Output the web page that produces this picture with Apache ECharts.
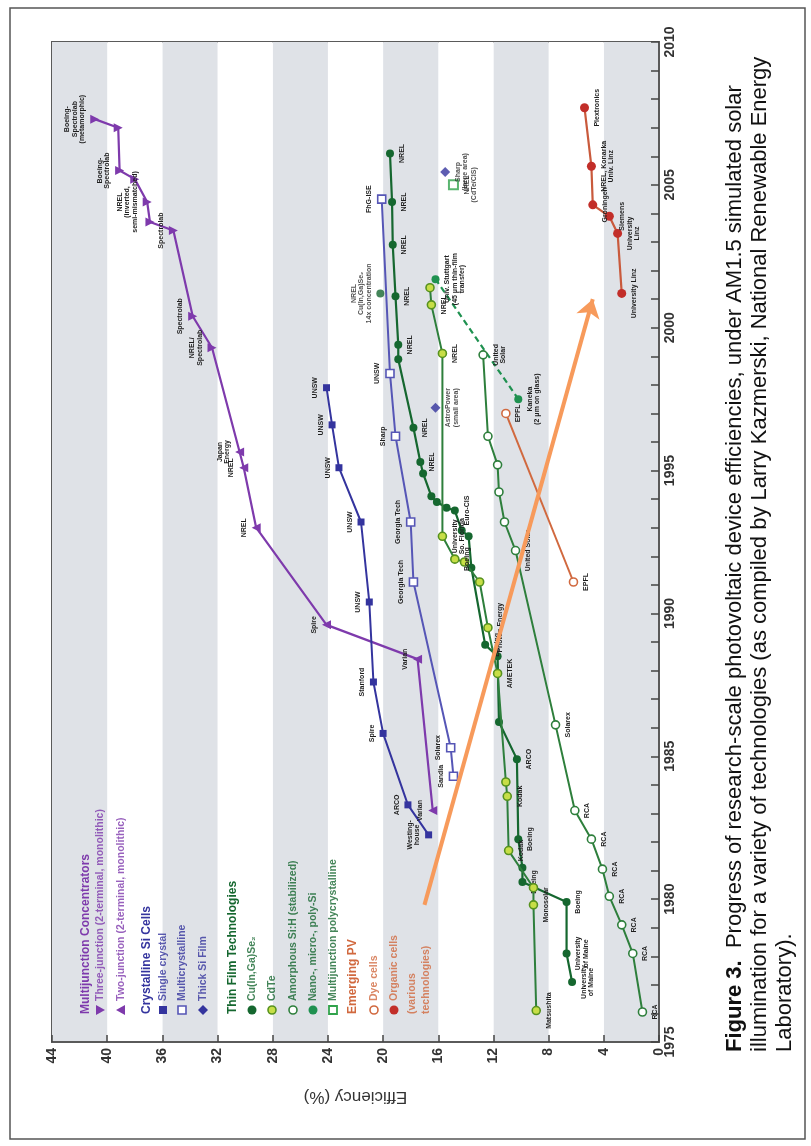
<!DOCTYPE html>
<html>
<head>
<meta charset="utf-8">
<script src="https://cdn.jsdelivr.net/npm/echarts@6/dist/echarts.min.js"></script>
<style>
html, body { margin: 0; padding: 0; background: #fff; }
#chart { width: 811px; height: 1146px; }
</style>
</head>
<body>
<div id="chart"></div>
<script>
// values: efficiency (%) and year of each record cell

// multijunction concentrators (first six two-junction, rest three-junction)
const mjYear = [1983.1, 1988.4, 1989.6, 1993.0, 1995.1, 1995.65, 1999.3, 2000.4, 2003.4, 2003.7, 2004.4, 2005.2, 2005.5, 2007.0, 2007.3];
const mjEff = [16.4, 17.5, 24.1, 29.2, 30.1, 30.4, 32.4, 33.8, 35.2, 36.9, 37.1, 38.0, 39.1, 39.2, 40.9];
const mjKind = ['2J', '2J', '2J', '2J', '2J', '2J', '3J', '3J', '3J', '3J', '3J', '3J', '3J', '3J', '3J'];
const mjNames = ['Varian', 'Varian', 'Spire', 'NREL', 'NREL', 'Japan\nEnergy', 'NREL/\nSpectrolab', 'Spectrolab', 'Spectrolab', '', 'NREL\n(inverted,\nsemi-mismatched)', '', 'Boeing-\nSpectrolab', '', 'Boeing-\nSpectrolab\n(metamorphic)'];

// crystalline Si
const scYear = [1982.25, 1983.3, 1985.8, 1987.6, 1990.4, 1993.2, 1995.1, 1996.6, 1997.9];
const scEff = [16.7, 18.2, 20.0, 20.7, 21.0, 21.6, 23.2, 23.7, 24.1];
const scNames = ['Westing-\nhouse', 'ARCO', 'Spire', 'Stanford', 'UNSW', 'UNSW', 'UNSW', 'UNSW', 'UNSW'];

const mcYear = [1984.3, 1985.3, 1991.1, 1993.2, 1996.2, 1998.4, 2004.5];
const mcEff = [14.9, 15.1, 17.8, 18.0, 19.1, 19.5, 20.1];
const mcNames = ['Sandia', 'Solarex', 'Georgia Tech', 'Georgia Tech', 'Sharp', 'UNSW', 'FhG-ISE'];

const tsYear = [1997.2, 2005.45];
const tsEff = [16.2, 15.5];
const tsNames = ['AstroPower\n(small area)', 'Sharp\n(large area)'];

// thin film
const cigsYear = [1977.1, 1978.1, 1979.9, 1980.6, 1981.1, 1982.1, 1984.9, 1986.2, 1988.5, 1988.9, 1991.6, 1992.7, 1992.9, 1993.6, 1993.7, 1993.9, 1994.1, 1994.9, 1995.3, 1996.5, 1998.9, 1999.4, 2001.1, 2002.9, 2004.4, 2006.1];
const cigsEff = [6.3, 6.7, 6.7, 9.9, 9.9, 10.2, 10.3, 11.6, 11.7, 12.6, 13.6, 13.8, 14.3, 14.8, 15.4, 16.1, 16.5, 17.1, 17.3, 17.8, 18.9, 18.9, 19.1, 19.3, 19.35, 19.5];
const cigsNames = ['University\nof Maine', 'University\nof Maine', 'Boeing', 'Boeing', '', 'Boeing', 'ARCO', '', '', 'Boeing', '', '', '', 'Euro-CIS', '', '', '', '', 'NREL', 'NREL', '', 'NREL', 'NREL', 'NREL', 'NREL', 'NREL'];

const cigsConcYear = [2001.2];
const cigsConcEff = [20.2];
const cigsConcNames = ['NREL\nCu(In,Ga)Se\u2082\n14x concentration'];

const cdYear = [1976.1, 1979.8, 1980.4, 1981.7, 1983.6, 1984.1, 1987.9, 1989.5, 1991.1, 1991.8, 1991.9, 1992.7, 1999.1, 2000.8, 2001.4];
const cdEff = [8.9, 9.1, 9.1, 10.9, 11.0, 11.1, 11.7, 12.4, 13.0, 14.1, 14.8, 15.7, 15.7, 16.5, 16.6];
const cdNames = ['Matsushita', 'Monosolar', '', 'Kodak', 'Kodak', '', 'AMETEK', 'Photon Energy', '', '', 'Boeing', 'University\nSo. Florida', 'NREL', 'NREL', ''];

const asYear = [1976.05, 1978.1, 1979.1, 1980.1, 1981.05, 1982.1, 1983.1, 1986.1, 1992.2, 1993.2, 1994.25, 1995.2, 1996.2, 1999.05];
const asEff = [1.2, 1.9, 2.7, 3.6, 4.1, 4.9, 6.1, 7.5, 10.4, 11.2, 11.6, 11.7, 12.4, 12.75];
const asNames = ['RCA', 'RCA', 'RCA', 'RCA', 'RCA', 'RCA', 'RCA', 'Solarex', 'United Solar', '', '', '', '', 'United\nSolar'];

const nsYear = [1997.5, 2001.7];
const nsEff = [10.2, 16.2];
const nsNames = ['Kaneka\n(2 \u03bcm on glass)', 'Univ. Stuttgart\n(45 \u03bcm thin-film\ntransfer)'];

const mpYear = [2005.0];
const mpEff = [14.9];
const mpNames = ['NREL\n(CdTe/CIS)'];

// emerging PV
const dyeYear = [1991.1, 1997.0];
const dyeEff = [6.2, 11.1];
const dyeNames = ['EPFL', 'EPFL'];

const orgYear = [2001.2, 2003.3, 2003.9, 2004.3, 2005.65, 2007.7];
const orgEff = [2.7, 3.0, 3.6, 4.8, 4.9, 5.4];
const orgNames = ['University Linz', 'University\nLinz', 'Siemens', 'Groningen', 'NREL, Konarka\nUniv. Linz', 'Plextronics'];

// the orange arrow laid over the plot (start, end)
const arrowYear = [1979.8, 2001.0];
const arrowEff = [17.0, 4.8];

// axis ticks
const effTicks = [0, 4, 8, 12, 16, 20, 24, 28, 32, 36, 40, 44];
const yearTicks = [1975, 1980, 1985, 1990, 1995, 2000, 2005, 2010];

const legendRows = [
    {text: 'Multijunction Concentrators', head: true, group: 'mj'},
    {text: 'Three-junction (2-terminal, monolithic)', sym: 'triR', group: 'mj'},
    {text: 'Two-junction (2-terminal, monolithic)', sym: 'triL', group: 'mj'},
    {text: 'Crystalline Si Cells', head: true, group: 'si'},
    {text: 'Single crystal', sym: 'sq', group: 'si'},
    {text: 'Multicrystalline', sym: 'sqo', group: 'si'},
    {text: 'Thick Si Film', sym: 'dia', group: 'si'},
    {text: 'Thin Film Technologies', head: true, group: 'tf'},
    {text: 'Cu(In,Ga)Se\u2082', sym: 'cigs', group: 'tf'},
    {text: 'CdTe', sym: 'cdte', group: 'tf'},
    {text: 'Amorphous Si:H (stabilized)', sym: 'asi', group: 'tf'},
    {text: 'Nano-, micro-, poly-Si', sym: 'nano', group: 'tf'},
    {text: 'Multijunction polycrystalline', sym: 'mjp', group: 'tf'},
    {text: 'Emerging PV', head: true, group: 'em'},
    {text: 'Dye cells', sym: 'dye', group: 'em'},
    {text: 'Organic cells', sym: 'org', group: 'em'},
    {text: '(various', group: 'em'},
    {text: 'technologies)', group: 'em'}
];

const captionLines = [
    'Progress of research-scale photovoltaic device efficiencies, under AM1.5 simulated solar',
    'illumination for a variety of technologies (as compiled by Larry Kazmerski, National Renewable Energy',
    'Laboratory).'
];

// ---------------------------------------------------------------
const NARROW = "'Liberation Sans Narrow', 'Liberation Sans', Arial, sans-serif";
const SANS = "'Liberation Sans', Arial, sans-serif";

const C = {
    purple: '#7e3aac',
    blue: '#34349e',
    blueLight: '#5656b6',
    dkgreen: '#15672f',
    green: '#2e7f3c',
    ygreen: '#c7de47',
    ygreenEdge: '#57921f',
    midgreen: '#1f9150',
    mjpoly: '#31a34c',
    dye: '#d1693f',
    org: '#c22e29',
    orgLine: '#c95a3c',
    arrow: '#f79a5b',
    band: '#dfe2e7'
};

function pts(eff, yr, names) {
    return eff.map((e, i) => ({value: [e, yr[i]], name: names ? names[i] : ''}));
}

function lbl(side) {
    return {
        show: true,
        rotate: 90,
        position: side,
        distance: 4,
        align: 'center',
        verticalAlign: side === 'left' ? 'bottom' : 'top',
        fontSize: 7,
        lineHeight: 7.5,
        fontWeight: 'bold',
        fontFamily: NARROW,
        color: '#1e1e1e',
        formatter: p => p.name
    };
}

const mjData = pts(mjEff, mjYear, mjNames).map((d, i) => Object.assign(d, {
    symbol: 'triangle',
    symbolRotate: mjKind[i] === '3J' ? -90 : 90
}));

const series = [
    {
        name: 'Multijunction', type: 'line', data: mjData, symbolSize: 9,
        lineStyle: {color: C.purple, width: 2.2}, itemStyle: {color: C.purple},
        label: lbl('left'), z: 5
    },
    {
        name: 'Single crystal', type: 'line', data: pts(scEff, scYear, scNames),
        symbol: 'rect', symbolSize: 7,
        lineStyle: {color: C.blue, width: 2}, itemStyle: {color: C.blue},
        label: lbl('left'), z: 5
    },
    {
        name: 'Multicrystalline', type: 'line', data: pts(mcEff, mcYear, mcNames),
        symbol: 'rect', symbolSize: 8,
        lineStyle: {color: C.blueLight, width: 2},
        itemStyle: {color: '#fff', borderColor: C.blueLight, borderWidth: 1.6},
        label: lbl('left'), z: 5
    },
    {
        name: 'Thick Si Film', type: 'scatter', data: pts(tsEff, tsYear, tsNames),
        symbol: 'diamond', symbolSize: 10, itemStyle: {color: C.blue},
        label: lbl('right'), z: 6
    },
    {
        name: 'CIGS', type: 'line', data: pts(cigsEff, cigsYear, cigsNames),
        symbol: 'circle', symbolSize: 8,
        lineStyle: {color: C.dkgreen, width: 2.2}, itemStyle: {color: C.dkgreen},
        label: lbl('right'), z: 6
    },
    {
        name: 'CIGS conc', type: 'scatter', data: pts(cigsConcEff, cigsConcYear, cigsConcNames),
        symbol: 'circle', symbolSize: 8, itemStyle: {color: C.dkgreen},
        label: lbl('left'), z: 6
    },
    {
        name: 'CdTe', type: 'line', data: pts(cdEff, cdYear, cdNames),
        symbol: 'circle', symbolSize: 8,
        lineStyle: {color: C.green, width: 2},
        itemStyle: {color: C.ygreen, borderColor: C.ygreenEdge, borderWidth: 1.6},
        label: lbl('right'), z: 7
    },
    {
        name: 'a-Si', type: 'line', data: pts(asEff, asYear, asNames),
        symbol: 'circle', symbolSize: 8,
        lineStyle: {color: C.green, width: 2},
        itemStyle: {color: '#fff', borderColor: C.green, borderWidth: 1.6},
        label: lbl('right'), z: 6
    },
    {
        name: 'Nano-Si', type: 'line', data: pts(nsEff, nsYear, nsNames),
        symbol: 'circle', symbolSize: 8,
        lineStyle: {color: C.midgreen, width: 2.2, type: [6, 4]}, itemStyle: {color: C.midgreen},
        label: lbl('right'), z: 6
    },
    {
        name: 'MJ poly', type: 'scatter', data: pts(mpEff, mpYear, mpNames),
        symbol: 'rect', symbolSize: 9,
        itemStyle: {color: '#fff', borderColor: C.mjpoly, borderWidth: 2},
        label: lbl('right'), z: 6
    },
    {
        name: 'Dye', type: 'line', data: pts(dyeEff, dyeYear, dyeNames),
        symbol: 'circle', symbolSize: 8,
        lineStyle: {color: C.dye, width: 2},
        itemStyle: {color: '#fff', borderColor: C.dye, borderWidth: 1.6},
        label: lbl('right'), z: 6
    },
    {
        name: 'Organic', type: 'line', data: pts(orgEff, orgYear, orgNames),
        symbol: 'circle', symbolSize: 9,
        lineStyle: {color: C.orgLine, width: 2.2}, itemStyle: {color: C.org},
        label: lbl('right'), z: 6
    },
    {
        name: 'arrow', type: 'lines', coordinateSystem: 'cartesian2d',
        data: [{coords: arrowEff.map((e, i) => [e, arrowYear[i]])}],
        symbol: ['none', 'arrow'], symbolSize: [0, 18],
        lineStyle: {color: C.arrow, width: 4, opacity: 1}, z: 20
    }
];

// legend, drawn rotated like the rest of the figure
const groupColor = {mj: C.purple, si: C.blue, tf: C.dkgreen, em: C.dye};
const legendX = [86, 100, 121, 147, 163, 182, 203, 233, 252, 272, 293, 313, 333, 353, 374, 394, 412, 426];
const graphics = [];
legendRows.forEach((r, i) => {
    const x = legendX[i];
    const y = 1010;
    graphics.push({
        type: 'text', x: x, y: r.sym ? y - 9 : y + 4, rotation: Math.PI / 2, silent: true, z: 50,
        style: {
            text: r.text, fill: groupColor[r.group], fontFamily: NARROW,
            fontSize: r.head ? 12 : 10.5, fontWeight: 'bold',
            align: 'left', verticalAlign: 'middle', opacity: r.head ? 1 : 0.8
        }
    });
    let shape = null;
    switch (r.sym) {
        case 'triR':
            shape = {type: 'polygon', shape: {points: [[x - 4, y - 5], [x + 5, y], [x - 4, y + 5]]}, style: {fill: C.purple}};
            break;
        case 'triL':
            shape = {type: 'polygon', shape: {points: [[x + 4, y - 5], [x - 5, y], [x + 4, y + 5]]}, style: {fill: C.purple}};
            break;
        case 'sq':
            shape = {type: 'rect', shape: {x: x - 4, y: y - 4, width: 8, height: 8}, style: {fill: C.blue}};
            break;
        case 'sqo':
            shape = {type: 'rect', shape: {x: x - 4, y: y - 4, width: 8, height: 8}, style: {fill: '#fff', stroke: C.blueLight, lineWidth: 1.6}};
            break;
        case 'dia':
            shape = {type: 'polygon', shape: {points: [[x, y - 5], [x + 5, y], [x, y + 5], [x - 5, y]]}, style: {fill: C.blue}};
            break;
        case 'cigs':
            shape = {type: 'circle', shape: {cx: x, cy: y, r: 4.5}, style: {fill: C.dkgreen}};
            break;
        case 'cdte':
            shape = {type: 'circle', shape: {cx: x, cy: y, r: 4}, style: {fill: C.ygreen, stroke: C.ygreenEdge, lineWidth: 1.6}};
            break;
        case 'asi':
            shape = {type: 'circle', shape: {cx: x, cy: y, r: 4}, style: {fill: '#fff', stroke: C.green, lineWidth: 1.6}};
            break;
        case 'nano':
            shape = {type: 'circle', shape: {cx: x, cy: y, r: 4.5}, style: {fill: C.midgreen}};
            break;
        case 'mjp':
            shape = {type: 'rect', shape: {x: x - 4, y: y - 4, width: 8, height: 8}, style: {fill: '#fff', stroke: C.mjpoly, lineWidth: 1.8}};
            break;
        case 'dye':
            shape = {type: 'circle', shape: {cx: x, cy: y, r: 4}, style: {fill: '#fff', stroke: C.dye, lineWidth: 1.6}};
            break;
        case 'org':
            shape = {type: 'circle', shape: {cx: x, cy: y, r: 4.5}, style: {fill: C.org}};
            break;
    }
    if (shape) {
        shape.z = 50;
        shape.silent = true;
        graphics.push(shape);
    }
});

// caption on the right-hand side
const captionX = [735, 760, 785];
captionLines.forEach((t, i) => {
    graphics.push({
        type: 'text', x: captionX[i], y: 1052, rotation: Math.PI / 2, silent: true, z: 50,
        style: {
            text: i === 0 ? '{b|Figure 3.}  ' + t : t,
            rich: {b: {fontWeight: 'bold', fontSize: 22, fontFamily: SANS, fill: '#111'}},
            fontSize: 22, fontFamily: SANS, fill: '#111',
            align: 'left', verticalAlign: 'middle'
        }
    });
});

// outer frame
graphics.push({
    type: 'rect', silent: true, z: 50,
    shape: {x: 10, y: 8, width: 795, height: 1131},
    style: {fill: 'none', stroke: '#555', lineWidth: 1.5}
});

const chart = echarts.init(document.getElementById('chart'), null, {renderer: 'canvas'});
chart.setOption({
    animation: false,
    backgroundColor: '#fff',
    grid: {
        left: 52, right: 152, top: 42, bottom: 104,
        show: true, borderColor: '#5a5a5a', borderWidth: 2, backgroundColor: 'transparent'
    },
    xAxis: {
        type: 'value', min: effTicks[0], max: effTicks[effTicks.length - 1], interval: 4,
        inverse: true, position: 'bottom',
        name: 'Efficiency (%)', nameLocation: 'middle', nameGap: 46, nameRotate: 180,
        nameTextStyle: {fontSize: 17, color: '#333', fontFamily: SANS},
        axisLine: {show: true, onZero: false, lineStyle: {color: '#5a5a5a', width: 2}},
        axisTick: {show: true, inside: true, length: 7, lineStyle: {color: '#444', width: 1.5}},
        axisLabel: {
            rotate: 90, margin: 6, fontSize: 14, fontWeight: 'bold', color: '#333', fontFamily: NARROW
        },
        splitLine: {show: false},
        splitArea: {show: true, areaStyle: {color: [C.band, '#ffffff']}}
    },
    yAxis: {
        type: 'value', min: yearTicks[0], max: yearTicks[yearTicks.length - 1], interval: 5,
        position: 'right',
        axisLine: {show: true, onZero: false, lineStyle: {color: '#5a5a5a', width: 2}},
        axisTick: {show: true, inside: true, length: 8, lineStyle: {color: '#444', width: 1.5}},
        minorTick: {show: true, splitNumber: 5, length: 8, lineStyle: {color: '#444', width: 1.5}},
        axisLabel: {
            rotate: 90, margin: 4, fontSize: 14, fontWeight: 'bold', color: '#333', fontFamily: NARROW,
            formatter: v => String(v)
        },
        splitLine: {show: false}
    },
    graphic: graphics,
    series: series
});
</script>
</body>
</html>
